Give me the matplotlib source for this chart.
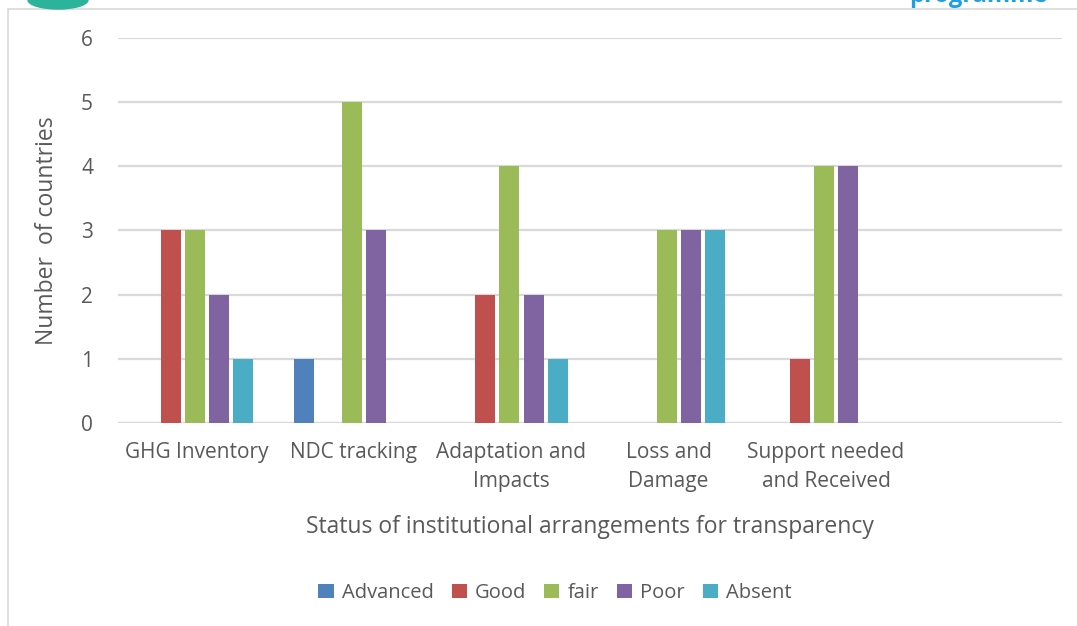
import matplotlib.pyplot as plt
import numpy as np
from matplotlib.patches import Rectangle, Ellipse

# status counts per reporting area
categories = ["GHG Inventory", "NDC tracking", "Adaptation and\nImpacts",
              "Loss and\nDamage", "Support needed\nand Received", ""]
advanced = [0, 1, 0, 0, 0, 0]
good = [3, 0, 2, 0, 1, 0]
fair = [3, 5, 4, 3, 4, 0]
poor = [2, 3, 2, 3, 4, 0]
absent = [1, 0, 1, 3, 0, 0]

series = [("Advanced", advanced, "#4F81BD"),
          ("Good", good, "#C0504D"),
          ("fair", fair, "#9BBB59"),
          ("Poor", poor, "#8064A2"),
          ("Absent", absent, "#4BACC6")]

txt = "#595959"
plt.rcParams['font.family'] = ['Open Sans', 'DejaVu Sans']

fig = plt.figure(figsize=(10.77, 6.26), dpi=100)
ax = fig.add_axes([118/1077, 1-423/626, (1062-118)/1077, (423-38)/626])

x = np.arange(len(categories))
w = 0.127
step = 0.153
for i, (name, vals, col) in enumerate(series):
    ax.bar(x + (i - 2) * step - 0.012, vals, w, color=col, label=name, zorder=3)

ax.set_xlim(-0.5, len(categories) - 0.5)
ax.set_ylim(0, 6)
ax.set_yticks(range(7))
ax.grid(axis='y', color='#d9d9d9', linewidth=1.6, zorder=0)
for s in ax.spines.values():
    s.set_visible(False)
ax.axhline(0, color='#d9d9d9', linewidth=1.6, zorder=2)
ax.tick_params(length=0, labelsize=15, colors=txt)
ax.tick_params(axis='y', pad=18)
ax.tick_params(axis='x', pad=14)
ax.set_xticks(x)
ax.set_xticklabels(categories, linespacing=1.45)
ax.set_ylabel("Number  of countries", fontsize=16.5, color=txt, labelpad=16)
ax.set_xlabel("Status of institutional arrangements for transparency",
              fontsize=16.5, color=txt, labelpad=17)

ax.legend(loc='center', bbox_to_anchor=(555/1077, 1-593/626),
          bbox_transform=fig.transFigure, ncol=5, frameon=False,
          fontsize=14.5, labelcolor=txt, handlelength=0.75, handleheight=0.75,
          handletextpad=0.4, columnspacing=0.9)

# page frame and header pieces cut off at the top
fig.add_artist(Rectangle((8/1077, -0.1), 1.2, 1.1 - 9/626, transform=fig.transFigure,
                         fill=False, edgecolor='#d9d9d9', linewidth=1.2))
fig.add_artist(Ellipse((58/1077, 1.0), 60/1077, 18/626, transform=fig.transFigure,
                       color='#2bb39b'))
fig.text(978/1077, 1 + 4/626, "programme", color='#1ba1e2', fontsize=17,
         fontweight='bold', ha='center', va='center')

fig.savefig("out.png", dpi=100)
